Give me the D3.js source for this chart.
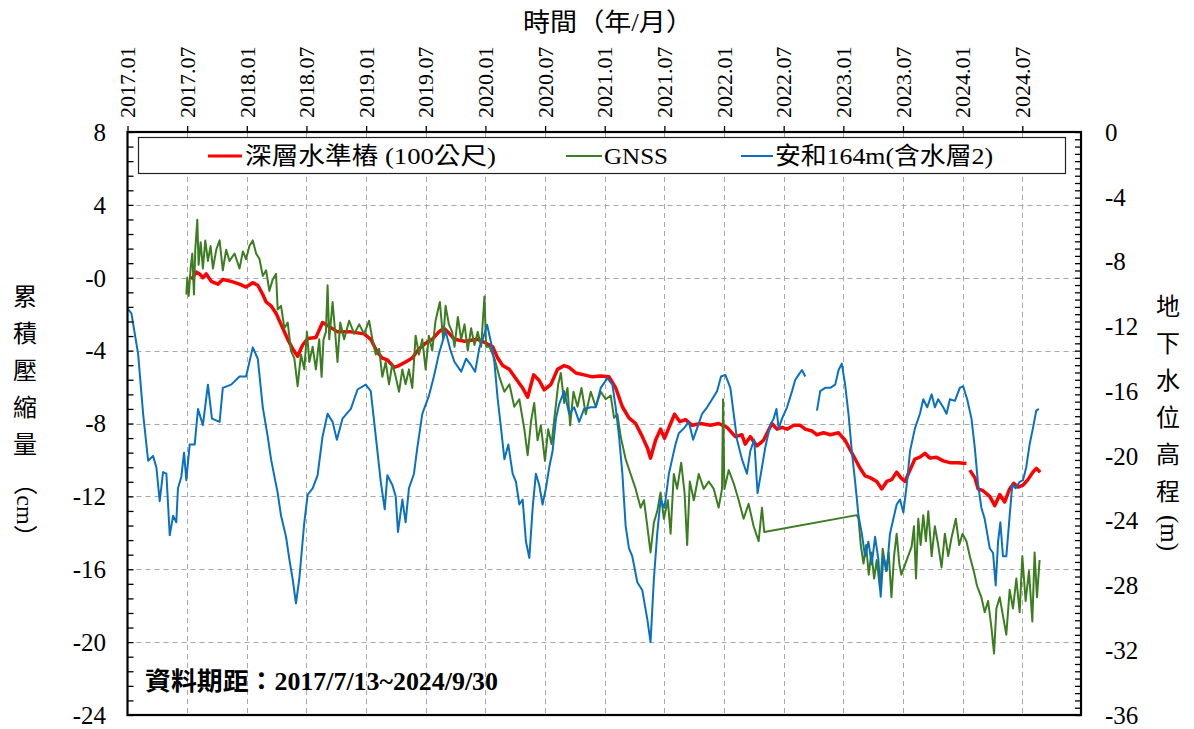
<!DOCTYPE html>
<html>
<head>
<meta charset="utf-8">
<script src="https://cdn.jsdelivr.net/npm/d3@7"></script>
<style>
  body { margin: 0; background: #fff; }
  svg { display: block; }
  text { font-family: "Liberation Serif", "Noto Sans CJK TC", serif; fill: #000; }
</style>
</head>
<body>
<div id="chart"></div>
<script>
const width = 1194;
const height = 729;

// plot frame
const plot = { left: 127.5, right: 1081, top: 132, bottom: 715 };

// time ticks (decimal years) and their labels
const timeTicks = d3.range(0, 16).map((i) => 2017 + i * 0.5);
const timeLabels = ['2017.01', '2017.07', '2018.01', '2018.07', '2019.01', '2019.07', '2020.01', '2020.07',
  '2021.01', '2021.07', '2022.01', '2022.07', '2023.01', '2023.07', '2024.01', '2024.07'];

const leftTicks = [8, 4, 0, -4, -8, -12, -16, -20, -24];
const leftTickLabels = ['8', '4', '-0', '-4', '-8', '-12', '-16', '-20', '-24'];
const rightTicks = [0, -4, -8, -12, -16, -20, -24, -28, -32, -36];
const rightTickLabels = ['0', '-4', '-8', '-12', '-16', '-20', '-24', '-28', '-32', '-36'];

// 深層水準樁 (100公尺) - cumulative compaction, cm (left axis) ; null = gap
const benchmark = [
  [2017.535, -0.10], [2017.577, 0.31], [2017.604, 0.21], [2017.632, 0.0], [2017.660, 0.21], [2017.702, -0.2],
  [2017.758, -0.35], [2017.799, -0.1], [2017.869, -0.2], [2017.939, -0.35], [2017.994, -0.51], [2018.050, -0.27],
  [2018.092, -0.41], [2018.134, -0.92], [2018.162, -1.33], [2018.203, -1.54], [2018.245, -1.95], [2018.287, -2.56],
  [2018.343, -3.38], [2018.384, -3.9], [2018.426, -4.31], [2018.468, -3.69], [2018.510, -3.34], [2018.579, -3.28],
  [2018.635, -2.46], [2018.663, -2.56], [2018.760, -2.97], [2018.872, -2.97], [2018.983, -3.08], [2019.039, -3.38],
  [2019.095, -4.10], [2019.136, -4.41], [2019.178, -4.51], [2019.234, -4.92], [2019.276, -4.82], [2019.331, -4.62],
  [2019.387, -4.41], [2019.443, -3.9], [2019.499, -3.59], [2019.554, -3.38], [2019.610, -2.97], [2019.652, -2.77],
  [2019.700, -3.08], [2019.741, -3.38], [2019.825, -3.49], [2019.936, -3.38], [2020.006, -3.59], [2020.061, -3.79],
  [2020.103, -4.41], [2020.145, -4.82], [2020.201, -5.03], [2020.256, -5.54], [2020.312, -6.05], [2020.354, -6.56],
  [2020.404, -5.33], [2020.451, -5.64], [2020.493, -6.15], [2020.549, -5.85], [2020.604, -5.03], [2020.660, -4.82],
  [2020.702, -4.92], [2020.758, -5.23], [2020.827, -5.33], [2020.897, -5.44], [2020.967, -5.39], [2021.036, -5.44],
  [2021.092, -6.05], [2021.148, -7.08], [2021.203, -7.69], [2021.259, -8.0], [2021.315, -8.72], [2021.357, -9.33],
  [2021.384, -9.9], [2021.426, -8.92], [2021.468, -8.31], [2021.501, -8.82], [2021.546, -8.1], [2021.585, -7.49],
  [2021.630, -7.9], [2021.677, -7.79], [2021.733, -8.1], [2021.802, -8.0], [2021.886, -8.1], [2021.955, -8.0],
  [2022.025, -8.21], [2022.095, -8.72], [2022.150, -8.62], [2022.178, -9.13], [2022.220, -8.72], [2022.276, -9.23],
  [2022.331, -8.92], [2022.401, -8.0], [2022.444, -8.31], [2022.486, -8.21], [2022.528, -8.31], [2022.584, -8.1],
  [2022.639, -8.1], [2022.681, -8.31], [2022.737, -8.41], [2022.779, -8.62], [2022.834, -8.51], [2022.890, -8.62],
  [2022.960, -8.51], [2023.015, -8.92], [2023.057, -9.44], [2023.099, -9.95], [2023.141, -10.46], [2023.182, -10.87],
  [2023.224, -10.97], [2023.280, -11.18], [2023.322, -11.59], [2023.364, -11.18], [2023.405, -11.08], [2023.447, -10.67],
  [2023.481, -10.97], [2023.517, -11.18], [2023.558, -10.56], [2023.600, -9.95], [2023.642, -9.85], [2023.684, -9.64],
  [2023.726, -9.9], [2023.781, -9.85], [2023.837, -10.05], [2023.893, -10.15], [2023.962, -10.15], [2024.032, -10.2],
  null,
  [2024.060, -10.56], [2024.102, -10.97], [2024.130, -11.59], [2024.171, -11.69], [2024.227, -12.0], [2024.269, -12.51],
  [2024.311, -11.9], [2024.352, -12.31], [2024.394, -11.59], [2024.428, -11.28], [2024.464, -11.49], [2024.506, -11.38],
  [2024.547, -11.08], [2024.589, -10.67], [2024.617, -10.46], [2024.650, -10.67]
];

// GNSS - cumulative compaction, cm (left axis)
const gnss = [
  [2017.493, -0.92], [2017.501, 0.0], [2017.513, -1.0], [2017.529, 0.51], [2017.543, 1.33], [2017.557, -0.92],
  [2017.568, 1.54], [2017.585, 3.18], [2017.596, 0.72], [2017.613, 1.95], [2017.632, 0.51], [2017.652, 2.05],
  [2017.674, 0.92], [2017.696, 1.74], [2017.716, 0.51], [2017.744, 1.54], [2017.772, 2.05], [2017.799, 0.41],
  [2017.827, 1.54], [2017.855, 0.92], [2017.897, 1.33], [2017.939, 0.51], [2017.967, 1.44], [2017.994, 1.03],
  [2018.022, 1.74], [2018.050, 2.05], [2018.078, 1.33], [2018.106, 1.03], [2018.134, 0.10], [2018.162, 0.41],
  [2018.189, -0.72], [2018.217, -0.10], [2018.245, 0.21], [2018.259, -1.74], [2018.287, -1.54], [2018.315, -2.77],
  [2018.343, -2.46], [2018.370, -4.0], [2018.398, -4.41], [2018.426, -5.95], [2018.454, -4.21], [2018.482, -5.03],
  [2018.504, -2.97], [2018.524, -4.62], [2018.552, -3.79], [2018.579, -5.03], [2018.607, -3.38], [2018.627, -5.44],
  [2018.643, -3.38], [2018.663, -2.97], [2018.677, -0.41], [2018.691, -3.38], [2018.719, -1.33], [2018.738, -2.77],
  [2018.760, -4.62], [2018.783, -2.46], [2018.816, -3.38], [2018.858, -2.36], [2018.900, -3.08], [2018.942, -2.56],
  [2018.983, -3.08], [2019.025, -2.36], [2019.053, -3.38], [2019.081, -4.21], [2019.109, -3.9], [2019.136, -5.44],
  [2019.164, -4.62], [2019.192, -5.85], [2019.220, -4.72], [2019.248, -5.44], [2019.276, -6.26], [2019.304, -5.03],
  [2019.331, -5.85], [2019.359, -5.03], [2019.387, -6.05], [2019.415, -3.18], [2019.443, -4.21], [2019.471, -3.38],
  [2019.499, -5.03], [2019.526, -3.18], [2019.554, -4.0], [2019.582, -2.36], [2019.618, -1.33], [2019.646, -3.38],
  [2019.666, -1.54], [2019.694, -2.56], [2019.721, -2.97], [2019.741, -3.79], [2019.769, -2.15], [2019.797, -3.38],
  [2019.825, -2.56], [2019.852, -4.0], [2019.880, -2.77], [2019.908, -3.69], [2019.936, -2.97], [2019.964, -3.79],
  [2019.992, -1.03], [2020.006, -3.79], [2020.033, -3.79], [2020.075, -4.41], [2020.117, -5.44], [2020.159, -6.26],
  [2020.201, -5.85], [2020.242, -7.08], [2020.284, -6.67], [2020.326, -8.31], [2020.354, -9.74], [2020.382, -7.9],
  [2020.409, -6.87], [2020.437, -8.92], [2020.465, -8.1], [2020.499, -10.05], [2020.526, -8.31], [2020.554, -9.13],
  [2020.582, -7.49], [2020.610, -5.85], [2020.632, -5.23], [2020.660, -6.87], [2020.688, -6.05], [2020.710, -8.1],
  [2020.738, -6.26], [2020.772, -7.08], [2020.805, -6.05], [2020.841, -7.49], [2020.883, -6.26], [2020.925, -7.08],
  [2020.967, -6.26], [2021.008, -6.67], [2021.050, -6.46], [2021.078, -7.69], [2021.106, -7.49], [2021.134, -8.72],
  [2021.175, -9.95], [2021.217, -10.77], [2021.259, -11.59], [2021.301, -12.62], [2021.329, -12.21], [2021.357, -13.64],
  [2021.384, -15.08], [2021.412, -13.44], [2021.440, -12.82], [2021.468, -11.79], [2021.496, -13.23], [2021.529, -12.21],
  [2021.552, -14.05], [2021.579, -10.77], [2021.607, -11.59], [2021.641, -10.15], [2021.669, -11.79], [2021.691, -14.67],
  [2021.713, -11.18], [2021.747, -12.21], [2021.788, -10.77], [2021.830, -11.59], [2021.872, -11.18], [2021.914, -11.59],
  [2021.955, -12.62], [2021.983, -11.59], [2021.992, -6.67], [2022.003, -11.59], [2022.039, -10.56], [2022.081, -11.28],
  [2022.123, -12.21], [2022.164, -13.23], [2022.206, -12.41], [2022.248, -13.64], [2022.290, -14.46], [2022.318, -12.62],
  [2022.337, -13.95], [2023.113, -13.03], [2023.127, -13.23], [2023.146, -14.67], [2023.169, -15.69], [2023.191, -14.67],
  [2023.213, -16.3], [2023.235, -15.08], [2023.258, -16.51], [2023.280, -15.49], [2023.308, -17.13], [2023.330, -14.87],
  [2023.358, -16.1], [2023.380, -15.08], [2023.403, -17.54], [2023.425, -15.28], [2023.447, -14.05], [2023.469, -15.69],
  [2023.486, -16.3], [2023.572, -14.77], [2023.592, -13.64], [2023.609, -16.51], [2023.628, -13.23], [2023.648, -14.67],
  [2023.670, -13.03], [2023.692, -14.46], [2023.712, -12.82], [2023.740, -15.28], [2023.767, -13.64], [2023.795, -14.67],
  [2023.823, -15.9], [2023.851, -14.05], [2023.879, -15.28], [2023.907, -14.26], [2023.943, -13.23], [2023.971, -14.67],
  [2023.999, -14.05], [2024.032, -14.46], [2024.060, -15.28], [2024.093, -16.1], [2024.121, -16.92], [2024.157, -17.54],
  [2024.185, -18.36], [2024.213, -17.74], [2024.241, -19.18], [2024.263, -20.62], [2024.283, -18.15], [2024.311, -17.54],
  [2024.338, -18.56], [2024.366, -19.59], [2024.394, -17.13], [2024.422, -18.15], [2024.450, -16.51], [2024.478, -18.36],
  [2024.500, -15.28], [2024.528, -17.74], [2024.556, -16.1], [2024.584, -18.87], [2024.603, -15.08], [2024.623, -17.54],
  [2024.645, -15.49]
];

// 安和164m(含水層2) - groundwater level, m (right axis)
const wellLevel = [
  [2017.000, -10.9], [2017.033, -11.2], [2017.089, -13.7], [2017.131, -17.4], [2017.173, -20.3], [2017.214, -20.0],
  [2017.242, -20.7], [2017.270, -22.8], [2017.298, -21.0], [2017.326, -21.1], [2017.354, -24.9], [2017.382, -23.7],
  [2017.409, -24.1], [2017.423, -22.0], [2017.451, -21.3], [2017.474, -19.8], [2017.493, -21.5], [2017.521, -19.3],
  [2017.563, -19.3], [2017.591, -17.1], [2017.632, -18.1], [2017.674, -15.6], [2017.708, -17.7], [2017.772, -17.9],
  [2017.799, -15.8], [2017.869, -15.6], [2017.939, -15.1], [2017.994, -15.1], [2018.050, -13.3], [2018.092, -14.0],
  [2018.134, -17.0], [2018.175, -18.8], [2018.203, -20.2], [2018.259, -22.3], [2018.287, -23.7], [2018.329, -25.0],
  [2018.357, -26.4], [2018.384, -27.6], [2018.412, -29.1], [2018.440, -27.6], [2018.482, -24.1], [2018.510, -22.4],
  [2018.552, -22.0], [2018.593, -21.2], [2018.635, -18.8], [2018.677, -17.4], [2018.719, -17.9], [2018.755, -19.0],
  [2018.802, -17.7], [2018.872, -17.1], [2018.928, -15.9], [2018.997, -15.6], [2019.039, -16.0], [2019.081, -18.8],
  [2019.123, -21.6], [2019.156, -23.3], [2019.178, -21.2], [2019.220, -21.8], [2019.248, -22.5], [2019.267, -24.7],
  [2019.304, -22.7], [2019.331, -24.1], [2019.359, -22.0], [2019.401, -21.1], [2019.429, -19.5], [2019.471, -17.4],
  [2019.526, -16.3], [2019.568, -15.1], [2019.610, -13.7], [2019.666, -12.3], [2019.708, -13.5], [2019.741, -14.2],
  [2019.797, -14.8], [2019.838, -14.0], [2019.880, -14.4], [2019.914, -14.8], [2019.950, -13.3], [2019.978, -12.8],
  [2020.014, -11.9], [2020.047, -13.0], [2020.075, -14.2], [2020.103, -16.5], [2020.131, -18.3], [2020.159, -20.2],
  [2020.192, -19.3], [2020.228, -21.1], [2020.256, -21.6], [2020.284, -23.0], [2020.312, -22.7], [2020.340, -25.3],
  [2020.368, -26.3], [2020.396, -23.2], [2020.423, -21.1], [2020.451, -21.8], [2020.479, -23.0], [2020.507, -22.0],
  [2020.535, -20.7], [2020.563, -19.7], [2020.591, -17.7], [2020.618, -16.8], [2020.660, -16.0], [2020.702, -17.4],
  [2020.744, -17.0], [2020.786, -17.9], [2020.827, -17.1], [2020.883, -17.0], [2020.925, -17.0], [2020.967, -15.8],
  [2021.022, -15.2], [2021.064, -15.6], [2021.092, -17.0], [2021.120, -18.8], [2021.148, -21.1], [2021.175, -24.3],
  [2021.203, -25.7], [2021.231, -26.2], [2021.273, -27.8], [2021.315, -28.3], [2021.357, -30.1], [2021.384, -31.5],
  [2021.412, -27.6], [2021.440, -24.8], [2021.468, -22.7], [2021.501, -23.2], [2021.538, -21.1], [2021.565, -20.2],
  [2021.593, -19.3], [2021.621, -18.6], [2021.663, -18.3], [2021.705, -17.9], [2021.741, -19.0], [2021.774, -18.3],
  [2021.816, -17.4], [2021.858, -17.0], [2021.900, -16.5], [2021.942, -16.0], [2021.975, -15.1], [2022.011, -15.0],
  [2022.053, -15.8], [2022.081, -17.4], [2022.109, -19.0], [2022.150, -20.2], [2022.192, -21.1], [2022.220, -19.7],
  [2022.253, -19.0], [2022.281, -22.3], [2022.318, -20.7], [2022.345, -19.5], [2022.387, -18.1], [2022.416, -17.7],
  [2022.439, -17.1], [2022.458, -18.3], [2022.486, -17.7], [2022.528, -17.0], [2022.570, -16.0], [2022.597, -15.3],
  [2022.625, -15.0], [2022.653, -14.7], [2022.681, -15.1],
  null,
  [2022.779, -17.2], [2022.806, -16.0], [2022.848, -15.8], [2022.890, -15.8], [2022.932, -15.6], [2022.960, -14.7],
  [2022.987, -14.3], [2023.015, -15.6], [2023.043, -17.4], [2023.071, -19.7], [2023.099, -21.6], [2023.127, -23.7],
  [2023.155, -24.8], [2023.182, -26.2], [2023.210, -25.3], [2023.238, -26.7], [2023.266, -25.0], [2023.294, -26.4],
  [2023.313, -28.7], [2023.336, -26.2], [2023.364, -27.1], [2023.391, -24.8], [2023.419, -23.9], [2023.447, -23.0],
  [2023.475, -22.7], [2023.503, -23.5], [2023.531, -21.8], [2023.559, -19.7], [2023.600, -18.3], [2023.642, -17.4],
  [2023.670, -16.5], [2023.703, -17.0], [2023.740, -16.2], [2023.767, -17.0], [2023.795, -16.5], [2023.837, -17.0],
  [2023.865, -17.4], [2023.893, -16.5], [2023.935, -16.6], [2023.976, -15.8], [2024.004, -15.7], [2024.038, -16.5],
  [2024.074, -17.7], [2024.102, -19.5], [2024.130, -21.8], [2024.157, -23.2], [2024.185, -23.9], [2024.227, -25.7],
  [2024.255, -26.0], [2024.277, -28.0], [2024.297, -25.3], [2024.316, -24.1], [2024.338, -26.2], [2024.366, -26.2],
  [2024.394, -23.7], [2024.416, -21.8], [2024.444, -22.0], [2024.478, -21.6], [2024.506, -21.5], [2024.533, -20.7],
  [2024.561, -19.3], [2024.589, -18.3], [2024.617, -17.2], [2024.639, -17.1]
];

const seriesNames = ['深層水準樁 (100公尺)', 'GNSS', '安和164m(含水層2)'];
const seriesColors = ['#ff0000', '#3c7d22', '#0a70c2'];

const svg = d3.select('#chart').append('svg')
  .attr('width', width)
  .attr('height', height);

const x = d3.scaleLinear().domain([2017, 2024.992]).range([plot.left, plot.right]);
const yLeft = d3.scaleLinear().domain([-24, 8]).range([plot.bottom, plot.top]);
const yRight = d3.scaleLinear().domain([-36, 0]).range([plot.bottom, plot.top]);

// gridlines (dashed)
const grid = svg.append('g')
  .attr('stroke', '#a8a8a8')
  .attr('stroke-width', 1)
  .attr('stroke-dasharray', '5,4');

grid.selectAll('line.v')
  .data(timeTicks.slice(1))
  .join('line')
  .attr('x1', (d) => Math.round(x(d)) + 0.5)
  .attr('x2', (d) => Math.round(x(d)) + 0.5)
  .attr('y1', plot.top)
  .attr('y2', plot.bottom);

grid.selectAll('line.h')
  .data(leftTicks.slice(1, -1))
  .join('line')
  .attr('x1', plot.left)
  .attr('x2', plot.right)
  .attr('y1', (d) => Math.round(yLeft(d)) + 0.5)
  .attr('y2', (d) => Math.round(yLeft(d)) + 0.5);

// clip lines to the plot
svg.append('clipPath').attr('id', 'clip')
  .append('rect')
  .attr('x', plot.left).attr('y', plot.top)
  .attr('width', plot.right - plot.left).attr('height', plot.bottom - plot.top);

const lineLeft = d3.line()
  .defined((d) => d !== null)
  .x((d) => x(d[0]))
  .y((d) => yLeft(d[1]));

const lineRight = d3.line()
  .defined((d) => d !== null)
  .x((d) => x(d[0]))
  .y((d) => yRight(d[1]));

const lines = svg.append('g').attr('clip-path', 'url(#clip)').attr('fill', 'none')
  .attr('stroke-linejoin', 'round');

lines.append('path').datum(benchmark)
  .attr('d', lineLeft)
  .attr('stroke', seriesColors[0])
  .attr('stroke-width', 3.5);

lines.append('path').datum(gnss)
  .attr('d', lineLeft)
  .attr('stroke', seriesColors[1])
  .attr('stroke-width', 2);

lines.append('path').datum(wellLevel)
  .attr('d', lineRight)
  .attr('stroke', seriesColors[2])
  .attr('stroke-width', 2);

// frame
svg.append('rect')
  .attr('x', plot.left).attr('y', plot.top)
  .attr('width', plot.right - plot.left).attr('height', plot.bottom - plot.top)
  .attr('fill', 'none')
  .attr('stroke', '#000')
  .attr('stroke-width', 2.2);

// left axis: inner ticks every 0.8, labels at majors
svg.append('g')
  .attr('transform', `translate(${plot.left},0)`)
  .call(d3.axisRight(yLeft).tickValues(d3.range(-24, 8.01, 0.8)).tickSize(6).tickFormat(''))
  .call((g) => g.select('.domain').remove())
  .call((g) => g.selectAll('line').attr('stroke', '#000').attr('stroke-width', 1.3));

svg.append('g').selectAll('text')
  .data(leftTicks)
  .join('text')
  .attr('x', 106)
  .attr('y', (d) => yLeft(d))
  .attr('dy', '0.35em')
  .attr('text-anchor', 'end')
  .attr('font-size', 25)
  .text((d, i) => leftTickLabels[i]);

// right axis: inner ticks every 0.45
svg.append('g')
  .attr('transform', `translate(${plot.right},0)`)
  .call(d3.axisLeft(yRight).tickValues(d3.range(-36, 0.01, 0.45)).tickSize(6).tickFormat(''))
  .call((g) => g.select('.domain').remove())
  .call((g) => g.selectAll('line').attr('stroke', '#000').attr('stroke-width', 1.3));

svg.append('g').selectAll('text')
  .data(rightTicks)
  .join('text')
  .attr('x', 1105)
  .attr('y', (d) => yRight(d))
  .attr('dy', '0.35em')
  .attr('text-anchor', 'start')
  .attr('font-size', 25)
  .text((d, i) => rightTickLabels[i]);

// top time axis
svg.append('g')
  .attr('transform', `translate(0,${plot.top})`)
  .call(d3.axisTop(x).tickValues(timeTicks).tickSize(6).tickFormat(''))
  .call((g) => g.select('.domain').remove())
  .call((g) => g.selectAll('line').attr('stroke', '#000').attr('stroke-width', 1.3));

svg.append('g').selectAll('text')
  .data(timeTicks)
  .join('text')
  .attr('transform', (d) => `translate(${x(d)},118) rotate(-90)`)
  .attr('dy', '0.35em')
  .attr('text-anchor', 'start')
  .attr('font-size', 22)
  .text((d, i) => timeLabels[i]);

svg.append('text')
  .attr('x', 523)
  .attr('y', 31)
  .attr('font-size', 25)
  .attr('textLength', 170)
  .attr('lengthAdjust', 'spacingAndGlyphs')
  .text('時間（年/月）');

// left axis title, stacked vertically
const leftTitleChars = ['累', '積', '壓', '縮', '量'];
svg.append('g').selectAll('text')
  .data(leftTitleChars)
  .join('text')
  .attr('x', 25)
  .attr('y', (d, i) => 297 + i * 37)
  .attr('dy', '0.35em')
  .attr('text-anchor', 'middle')
  .attr('font-size', 24)
  .text((d) => d);

svg.append('text')
  .attr('transform', 'translate(25,510) rotate(90)')
  .attr('dy', '0.35em')
  .attr('text-anchor', 'middle')
  .attr('font-size', 24)
  .text('（cm）');

// right axis title
const rightTitleChars = ['地', '下', '水', '位', '高', '程'];
svg.append('g').selectAll('text')
  .data(rightTitleChars)
  .join('text')
  .attr('x', 1168)
  .attr('y', (d, i) => 307 + i * 37)
  .attr('dy', '0.35em')
  .attr('text-anchor', 'middle')
  .attr('font-size', 24)
  .text((d) => d);

svg.append('text')
  .attr('transform', 'translate(1168,533) rotate(90)')
  .attr('dy', '0.3em')
  .attr('text-anchor', 'middle')
  .attr('font-size', 25)
  .text('(m)');

// legend
const legend = svg.append('g');
legend.append('rect')
  .attr('x', 138.5).attr('y', 137.5)
  .attr('width', 927).attr('height', 36)
  .attr('fill', '#fff')
  .attr('stroke', '#222')
  .attr('stroke-width', 1.2);

const legendItems = [
  { x0: 208, x1: 242, tx: 245, len: 251, w: 3 },
  { x0: 566, x1: 602, tx: 604, len: 64, w: 2 },
  { x0: 741, x1: 773, tx: 775, len: 218, w: 2 }
];
legendItems.forEach((it, i) => {
  legend.append('line')
    .attr('x1', it.x0).attr('x2', it.x1)
    .attr('y1', 156).attr('y2', 156)
    .attr('stroke', seriesColors[i])
    .attr('stroke-width', it.w);
  legend.append('text')
    .attr('x', it.tx)
    .attr('y', 156)
    .attr('dy', '0.35em')
    .attr('font-size', 24)
    .attr('textLength', it.len)
    .attr('lengthAdjust', 'spacingAndGlyphs')
    .attr('fill', '#222')
    .text(seriesNames[i]);
});

// data period note
svg.append('text')
  .attr('x', 145)
  .attr('y', 690)
  .attr('font-size', 25)
  .attr('font-weight', 'bold')
  .attr('textLength', 353)
  .attr('lengthAdjust', 'spacingAndGlyphs')
  .text('資料期距：2017/7/13~2024/9/30');
</script>
</body>
</html>
